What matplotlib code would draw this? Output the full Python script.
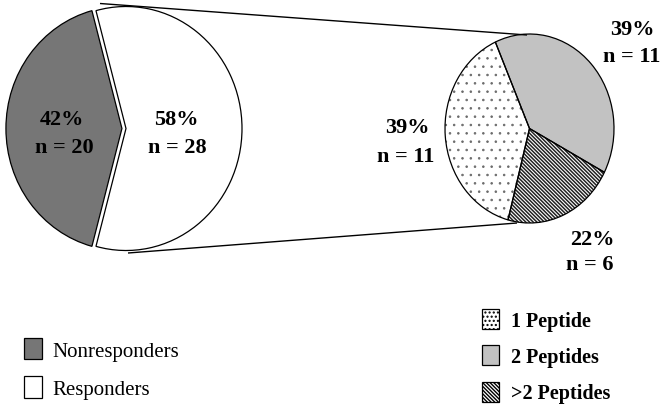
import matplotlib
matplotlib.use("Agg")
import matplotlib.pyplot as plt
from matplotlib.patches import Patch

# ---- data -------------------------------------------------------------
response_labels = ["Nonresponders", "Responders"]
response_counts = [20, 28]
response_pct = ["42%", "58%"]

peptide_labels = ["2 Peptides", "1 Peptide", ">2 Peptides"]
peptide_counts = [11, 11, 6]
peptide_pct = ["39%", "39%", "22%"]

peptide_legend_order = ["1 Peptide", "2 Peptides", ">2 Peptides"]

# ---- styling ----------------------------------------------------------
W, H, DPI = 662, 406, 100
plt.rcParams["font.family"] = ["Liberation Serif", "DejaVu Serif"]
plt.rcParams["hatch.linewidth"] = 1.0

response_style = {
    "Nonresponders": dict(facecolor="#767676", hatch=None, hatchcolor=None, hlw=None),
    "Responders": dict(facecolor="white", hatch=None, hatchcolor=None, hlw=None),
}
peptide_style = {
    "1 Peptide": dict(facecolor="white", hatch="..", hatchcolor="#6a6a6a", hlw=0.6),
    "2 Peptides": dict(facecolor="#c2c2c2", hatch=None, hatchcolor=None, hlw=None),
    ">2 Peptides": dict(facecolor="white", hatch="\\" * 9, hatchcolor="#222222", hlw=1.1),
}

fig = plt.figure(figsize=(W / DPI, H / DPI), dpi=DPI)
fig.patch.set_facecolor("white")

PAD = 1.12


def pie_axes(cx, cy, rx, ry, pad=PAD):
    """Axes whose unit circle maps onto an ellipse centred at (cx, cy) px."""
    ax = fig.add_axes([(cx - pad * rx) / W, (H - cy - pad * ry) / H,
                       2 * pad * rx / W, 2 * pad * ry / H])
    return ax


def apply_fill(patch, st):
    """Fill (and hatch) a patch; the hatch takes the edge colour, so the
    outline is drawn separately."""
    patch.set_facecolor(st["facecolor"])
    if st["hatch"]:
        patch.set_hatch(st["hatch"])
        patch.set_edgecolor(st["hatchcolor"])
        patch.set_linewidth(0)
        if hasattr(patch, "set_hatch_linewidth"):
            patch.set_hatch_linewidth(st["hlw"])
    else:
        patch.set_edgecolor("none")
        patch.set_linewidth(0)


def draw_pie(ax, counts, labels, styles, startangle, explode=None):
    # filled / hatched wedges
    fills, _ = ax.pie(counts, startangle=startangle, counterclock=True,
                      explode=explode, radius=1.0, center=(0, 0))
    for w, lab in zip(fills, labels):
        apply_fill(w, styles[lab])
    # black outlines on top
    ax.pie(counts, startangle=startangle, counterclock=True,
           explode=explode, radius=1.0, center=(0, 0),
           wedgeprops=dict(facecolor="none", edgecolor="black", linewidth=0.9))
    ax.set_xlim(-PAD, PAD)
    ax.set_ylim(-PAD, PAD)
    ax.set_aspect("auto")
    ax.axis("off")


# left pie: responders vs nonresponders
ax_l = pie_axes(126, 129.5, 116, 122)
total_r = sum(response_counts)
start_l = 180 - 360 * response_counts[0] / total_r / 2
draw_pie(ax_l, response_counts, response_labels, response_style, start_l,
         explode=[0.035, 0.0])

# right pie: breakdown of responders
ax_r = pie_axes(529.5, 129.5, 84.5, 94.5)
draw_pie(ax_r, peptide_counts, peptide_labels, peptide_style, -27.6)

# overlay in pixel coordinates for connectors and labels
ov = fig.add_axes([0, 0, 1, 1], facecolor="none")
ov.set_xlim(0, W)
ov.set_ylim(H, 0)
ov.axis("off")

ov.plot([100, 527], [4.5, 36], color="black", lw=1.0, solid_capstyle="butt")
ov.plot([128, 517], [254, 224], color="black", lw=1.0, solid_capstyle="butt")

lab_kw = dict(fontsize=16, fontweight="bold", ha="center", va="center")
resp_pos = [(62, 120, 64, 148), (176, 120, 177, 148)]
for (x1, y1, x2, y2), pct, n in zip(resp_pos, response_pct, response_counts):
    ov.text(x1, y1, pct, **lab_kw)
    ov.text(x2, y2, f"n = {n}", **lab_kw)

pep_pos = [(632, 30, 632, 57), (407, 128, 406, 157), (592, 240, 590, 265)]
for (x1, y1, x2, y2), pct, n in zip(pep_pos, peptide_pct, peptide_counts):
    ov.text(x1, y1, pct, **lab_kw)
    ov.text(x2, y2, f"n = {n}", **lab_kw)


# legends
def patch_for(st):
    hatch = st["hatch"]
    if hatch == "..":
        hatch = "...."
    return Patch(facecolor=st["facecolor"], edgecolor="black", linewidth=0.9,
                 hatch=hatch)


leg1 = fig.legend([patch_for(response_style[l]) for l in response_labels],
                  response_labels, loc="upper left",
                  bbox_to_anchor=(24 / W, 1 - 339 / H), frameon=False,
                  prop=dict(family="Liberation Serif", size=15),
                  handlelength=0.85, handleheight=1.2, handletextpad=0.5,
                  labelspacing=0.75, borderpad=0, borderaxespad=0)

leg2 = fig.legend([patch_for(peptide_style[l]) for l in peptide_legend_order],
                  peptide_legend_order, loc="upper left",
                  bbox_to_anchor=(482 / W, 1 - 310 / H), frameon=False,
                  prop=dict(family="Liberation Serif", size=14.5, weight="bold"),
                  handlelength=0.85, handleheight=1.15, handletextpad=0.6,
                  labelspacing=0.72, borderpad=0, borderaxespad=0)

fig.savefig("out.png", dpi=DPI, facecolor="white")
